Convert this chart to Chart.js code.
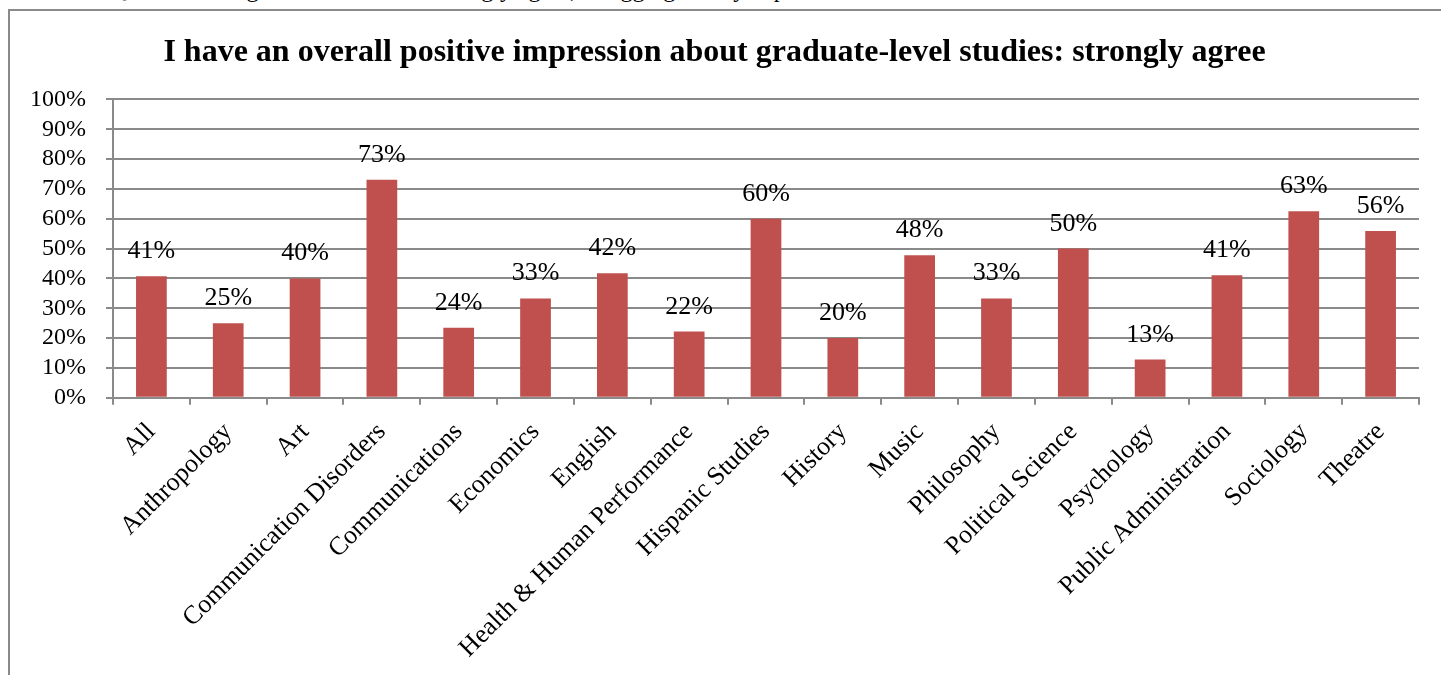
<!DOCTYPE html>
<html>
<head>
<meta charset="utf-8">
<script src="https://cdn.jsdelivr.net/npm/chart.js@4/dist/chart.umd.min.js"></script>
<style>
    html, body { margin: 0; padding: 0; background: #fff; overflow: hidden; }
    body { width: 1441px; height: 675px; position: relative; }
    .caption {
        position: absolute; left: 110px; top: -24px; white-space: nowrap;
        font: 24px "Liberation Serif", "Times New Roman", serif; color: #000;
    }
    .frame {
        position: absolute; left: 8px; top: 9px; width: 1448px; height: 720px;
        border: 2px solid #8a8a8a; box-sizing: border-box; background: #fff;
    }
    .frame canvas { position: absolute; left: 0; top: 0; }
</style>
</head>
<body>
<div class="caption">Q14: Percentage of students who strongly agree, disaggregated by department</div>
<div class="frame">
    <canvas id="impressionChart" width="1444" height="716"></canvas>
</div>
<script>
// departments along the x axis
const departments = [
    'All', 'Anthropology', 'Art', 'Communication Disorders', 'Communications',
    'Economics', 'English', 'Health & Human Performance', 'Hispanic Studies',
    'History', 'Music', 'Philosophy', 'Political Science', 'Psychology',
    'Public Administration', 'Sociology', 'Theatre'
];

// share answering "strongly agree", in percent
const strongAgree = [
    40.7, 25, 40, 73.1, 23.5,
    33.3, 41.7, 22.2, 60,
    20, 47.8, 33.3, 50, 12.8,
    41.1, 62.5, 55.9
];

const yMin = 0;
const yMax = 100;
const yStep = 10;

const serif = '"Liberation Serif", "Times New Roman", serif';
const gridGray = '#8a8a8a';

// draws the rounded percentage above every bar
const barValueLabels = {
    id: 'barValueLabels',
    afterDatasetsDraw(chart) {
        const ctx = chart.ctx;
        const meta = chart.getDatasetMeta(0);
        ctx.save();
        ctx.font = '26px ' + serif;
        ctx.fillStyle = '#000';
        ctx.textAlign = 'center';
        ctx.textBaseline = 'alphabetic';
        meta.data.forEach((bar, i) => {
            ctx.fillText(Math.round(strongAgree[i]) + '%', bar.x, bar.y - 18);
        });
        ctx.restore();
    }
};

const ctx = document.getElementById('impressionChart').getContext('2d');
new Chart(ctx, {
    type: 'bar',
    data: {
        labels: departments,
        datasets: [{
            label: 'Strongly agree',
            data: strongAgree,
            backgroundColor: '#c0504d',
            borderWidth: 0,
            categoryPercentage: 1,
            barPercentage: 0.4
        }]
    },
    options: {
        responsive: false,
        animation: false,
        layout: {
            padding: { left: 0, right: 35, top: 14, bottom: 51 }
        },
        scales: {
            x: {
                grid: {
                    display: true,
                    offset: true,
                    drawOnChartArea: false,
                    drawTicks: true,
                    tickLength: 7,
                    color: gridGray,
                    lineWidth: 2
                },
                border: { display: true, color: gridGray, width: 2 },
                ticks: {
                    color: '#000',
                    font: { family: serif, size: 26 },
                    minRotation: 45,
                    maxRotation: 45,
                    autoSkip: false,
                    padding: 12
                }
            },
            y: {
                min: yMin,
                max: yMax,
                grid: {
                    color: gridGray,
                    lineWidth: 2,
                    tickLength: 7
                },
                border: { display: true, color: gridGray, width: 2 },
                ticks: {
                    stepSize: yStep,
                    autoSkip: false,
                    color: '#000',
                    font: { family: serif, size: 24 },
                    padding: 20,
                    callback: value => value + '%'
                }
            }
        },
        plugins: {
            legend: { display: false },
            tooltip: { enabled: false },
            title: {
                display: true,
                text: 'I have an overall positive impression about graduate-level studies: strongly agree',
                color: '#000',
                font: { family: serif, size: 32, weight: 'bold' },
                padding: { top: 9, bottom: 27 }
            }
        }
    },
    plugins: [barValueLabels]
});
</script>
</body>
</html>
